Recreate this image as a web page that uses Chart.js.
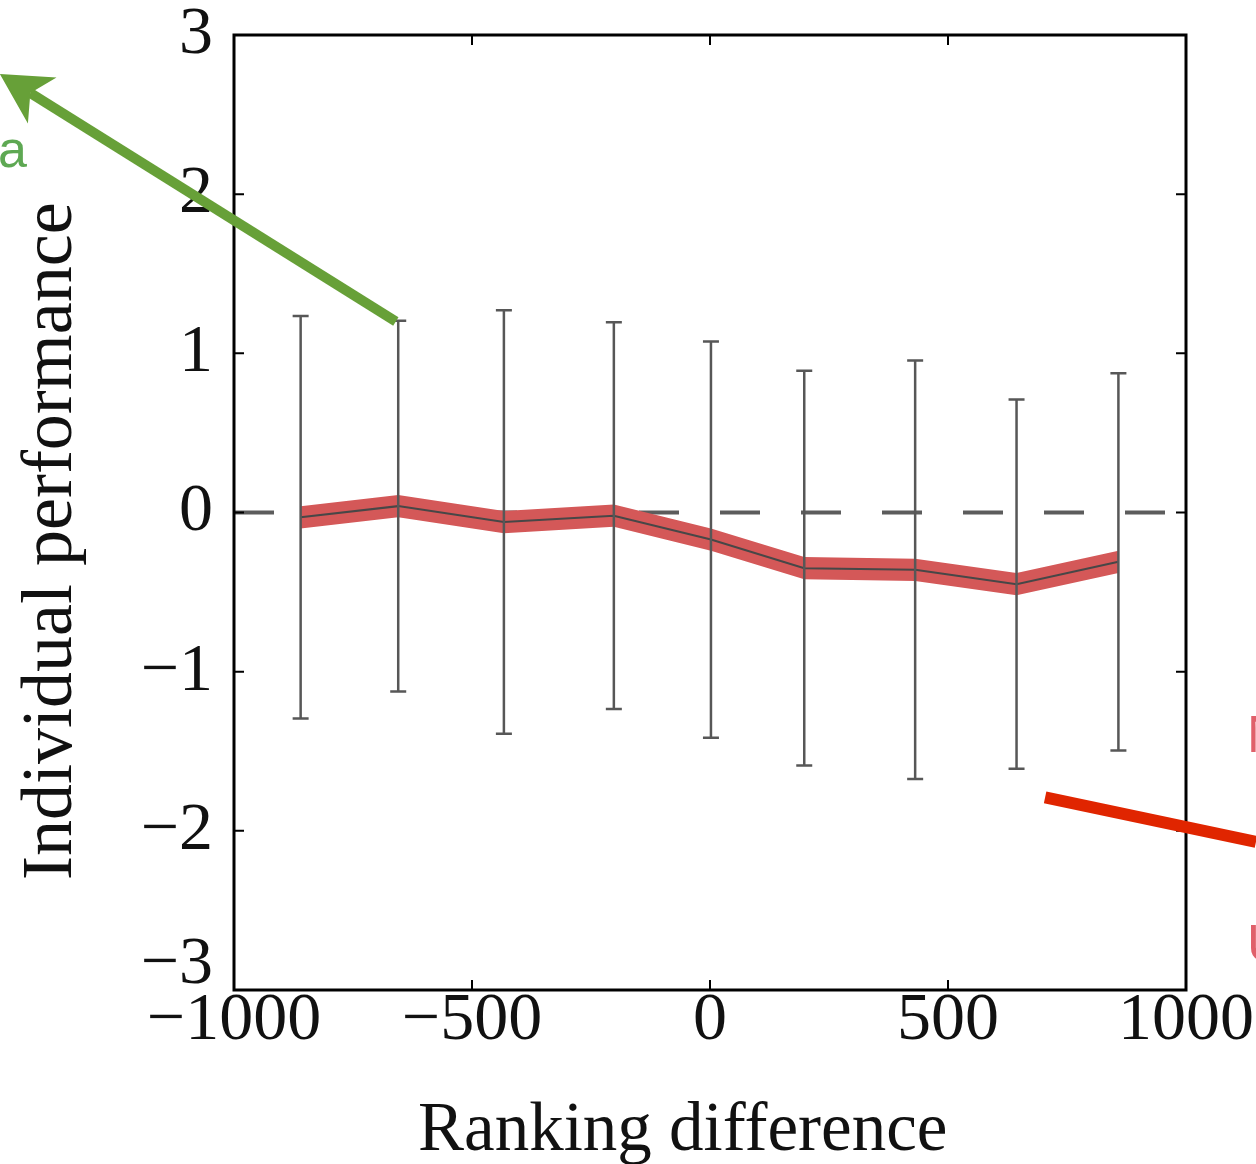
<!DOCTYPE html>
<html>
<head>
<meta charset="utf-8">
<title>Individual performance vs ranking difference</title>
<script src="https://cdn.jsdelivr.net/npm/chart.js@4"></script>
<style>
  html, body { margin: 0; padding: 0; background: #fff; }
  #wrap { width: 1256px; height: 1164px; position: relative; }
</style>
</head>
<body>
<div id="wrap"><canvas id="chart"></canvas></div>
<script>
// bin centres of the ranking difference
const rankDiff = [-860, -655, -433, -202, 2, 198, 431, 644, 858];
// mean individual performance in each bin
const perfMean = [-0.03, 0.04, -0.06, -0.02, -0.17, -0.35, -0.36, -0.45, -0.31];
// standard deviation in each bin (error bars)
const perfSd = [1.265, 1.165, 1.33, 1.215, 1.245, 1.24, 1.315, 1.16, 1.185];
// standard error in each bin (red band)
const perfSe = [0.07, 0.07, 0.07, 0.07, 0.07, 0.07, 0.07, 0.07, 0.07];

const xTicks = [-1000, -500, 0, 500, 1000];
const yTicks = [-3, -2, -1, 0, 1, 2, 3];

const xTitle = "Ranking difference";
const yTitle = "Individual performance";

// call-out marks around the axes (data units)
const greenArrow = { from: { x: -660, y: 1.2 }, to: { x: -1492, y: 2.755 } };
const redPointer = { from: { x: 704, y: -1.79 }, to: { x: 1147, y: -2.07 } };
const greenLabel = { text: "a", x: -1435, y: 2.17 };
const redLabels = [
    { text: "N", x: 1128, y: -1.505 },
    { text: "U", x: 1128, y: -2.82 }
];

const SERIF = "'Liberation Serif', 'Times New Roman', serif";
const SANS = "'Liberation Sans', Arial, sans-serif";

function minusFmt(v) {
    return v < 0 ? "\u2212" + Math.abs(v) : String(v);
}

const pts = (ys) => rankDiff.map((x, i) => ({ x: x, y: ys[i] }));

// error bars (mean +- sd) drawn on top of the band
const errorBars = {
    id: "errorBars",
    afterDatasetsDraw(chart) {
        const { ctx, scales: { x, y } } = chart;
        ctx.save();
        ctx.strokeStyle = "#575757";
        ctx.lineWidth = 2.5;
        rankDiff.forEach((v, i) => {
            const px = x.getPixelForValue(v);
            const top = y.getPixelForValue(perfMean[i] + perfSd[i]);
            const bot = y.getPixelForValue(perfMean[i] - perfSd[i]);
            ctx.beginPath();
            ctx.moveTo(px, top); ctx.lineTo(px, bot);
            ctx.moveTo(px - 8, top); ctx.lineTo(px + 8, top);
            ctx.moveTo(px - 8, bot); ctx.lineTo(px + 8, bot);
            ctx.stroke();
        });
        ctx.restore();
    }
};

// box frame with inward tick marks
const frame = {
    id: "frame",
    afterDraw(chart) {
        const { ctx, chartArea: a, scales: { x, y } } = chart;
        ctx.save();
        ctx.strokeStyle = "#000";
        ctx.lineWidth = 2;
        ctx.beginPath();
        yTicks.forEach(v => {
            const py = y.getPixelForValue(v);
            ctx.moveTo(a.left, py); ctx.lineTo(a.left + 10, py);
            ctx.moveTo(a.right, py); ctx.lineTo(a.right - 10, py);
        });
        xTicks.forEach(v => {
            const px = x.getPixelForValue(v);
            ctx.moveTo(px, a.bottom); ctx.lineTo(px, a.bottom - 10);
            ctx.moveTo(px, a.top); ctx.lineTo(px, a.top + 10);
        });
        ctx.stroke();
        ctx.lineWidth = 3;
        ctx.strokeRect(a.left, a.top, a.right - a.left, a.bottom - a.top);
        ctx.restore();
    }
};

// axis titles
const titles = {
    id: "titles",
    afterDraw(chart) {
        const { ctx, chartArea: a } = chart;
        ctx.save();
        ctx.fillStyle = "#111";
        ctx.textBaseline = "alphabetic";
        ctx.font = "69px " + SERIF;
        ctx.textAlign = "left";
        ctx.fillText(xTitle, a.left + 184, a.bottom + 160);

        ctx.font = "72px " + SERIF;
        ctx.translate(a.left - 163, a.bottom - 110);
        ctx.rotate(-Math.PI / 2);
        ctx.fillText(yTitle, 0, 0);
        ctx.restore();
    }
};

// arrows and clipped labels around the plot
const callouts = {
    id: "callouts",
    afterDraw(chart) {
        const { ctx, scales: { x, y } } = chart;
        const P = p => ({ x: x.getPixelForValue(p.x), y: y.getPixelForValue(p.y) });
        ctx.save();

        // green arrow
        const f = P(greenArrow.from), t = P(greenArrow.to);
        const len = Math.hypot(t.x - f.x, t.y - f.y);
        const ux = (t.x - f.x) / len, uy = (t.y - f.y) / len;
        const nx = uy, ny = -ux;
        const headL = 50, headW = 27, notch = 36;
        ctx.strokeStyle = "#67a038";
        ctx.fillStyle = "#67a038";
        ctx.lineWidth = 10;
        ctx.lineCap = "butt";
        ctx.beginPath();
        ctx.moveTo(f.x, f.y);
        ctx.lineTo(t.x - ux * notch, t.y - uy * notch);
        ctx.stroke();
        ctx.beginPath();
        ctx.moveTo(t.x, t.y);
        ctx.lineTo(t.x - ux * headL + nx * headW, t.y - uy * headL + ny * headW);
        ctx.lineTo(t.x - ux * notch, t.y - uy * notch);
        ctx.lineTo(t.x - ux * headL - nx * headW, t.y - uy * headL - ny * headW);
        ctx.closePath();
        ctx.fill();

        // red pointer
        const rf = P(redPointer.from), rt = P(redPointer.to);
        ctx.strokeStyle = "#e02500";
        ctx.lineWidth = 12;
        ctx.beginPath();
        ctx.moveTo(rf.x, rf.y);
        ctx.lineTo(rt.x, rt.y);
        ctx.stroke();

        // labels
        ctx.font = "52px " + SANS;
        ctx.textBaseline = "alphabetic";
        const g = P(greenLabel);
        ctx.fillStyle = "#5ea853";
        ctx.textAlign = "right";
        ctx.fillText(greenLabel.text, g.x, g.y);
        ctx.fillStyle = "#e0606a";
        ctx.textAlign = "left";
        redLabels.forEach(l => {
            const p = P(l);
            ctx.fillText(l.text, p.x, p.y);
        });
        ctx.restore();
    }
};

new Chart(document.getElementById("chart"), {
    type: "line",
    data: {
        datasets: [
            {
                label: "mean",
                data: pts(perfMean),
                borderColor: "#474747",
                borderWidth: 2,
                pointRadius: 0,
                fill: false,
                order: 0
            },
            {
                label: "upper",
                data: pts(perfMean.map((m, i) => m + perfSe[i])),
                borderWidth: 0,
                borderColor: "rgba(0,0,0,0)",
                backgroundColor: "rgb(212, 88, 88)",
                pointRadius: 0,
                fill: "+1",
                order: 1
            },
            {
                label: "lower",
                data: pts(perfMean.map((m, i) => m - perfSe[i])),
                borderWidth: 0,
                borderColor: "rgba(0,0,0,0)",
                pointRadius: 0,
                fill: false,
                order: 1
            },
            {
                label: "zero",
                data: [{ x: xTicks[0], y: 0 }, { x: xTicks[xTicks.length - 1], y: 0 }],
                borderColor: "#5c5c5c",
                borderWidth: 4,
                borderDash: [40, 41],
                pointRadius: 0,
                fill: false,
                order: 2
            }
        ]
    },
    options: {
        responsive: true,
        maintainAspectRatio: false,
        animation: false,
        layout: { padding: { top: 35, right: 70, left: 0, bottom: 0 } },
        plugins: { legend: { display: false }, tooltip: { enabled: false } },
        scales: {
            x: {
                type: "linear",
                min: xTicks[0],
                max: xTicks[xTicks.length - 1],
                afterBuildTicks: s => { s.ticks = xTicks.map(v => ({ value: v })); },
                afterFit: s => { s.height = 174; s.paddingLeft = 0; s.paddingRight = 0; },
                grid: { display: false, drawTicks: false },
                border: { display: false },
                ticks: {
                    color: "#111",
                    padding: 1,
                    maxRotation: 0,
                    autoSkip: false,
                    font: { family: SERIF, size: 68, lineHeight: 0.9 },
                    callback: v => minusFmt(v)
                }
            },
            y: {
                type: "linear",
                min: yTicks[0],
                max: yTicks[yTicks.length - 1],
                afterBuildTicks: s => { s.ticks = yTicks.map(v => ({ value: v })); },
                afterFit: s => { s.width = 234; s.paddingTop = 0; s.paddingBottom = 0; },
                grid: { display: false, drawTicks: false },
                border: { display: false },
                ticks: {
                    color: "#111",
                    padding: 21,
                    autoSkip: false,
                    font: { family: SERIF, size: 68, lineHeight: 0.735 },
                    // the lowest label sits a little higher to clear the x labels
                    callback: v => v === yTicks[0] ? [minusFmt(v), ""] : minusFmt(v)
                }
            }
        }
    },
    plugins: [errorBars, frame, titles, callouts]
});
</script>
</body>
</html>
